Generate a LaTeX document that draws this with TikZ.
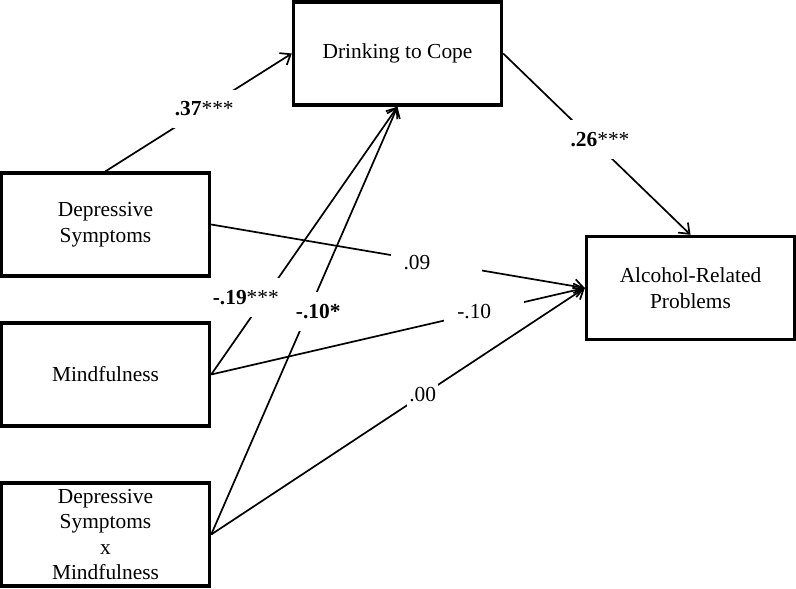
\documentclass[tikz,border=0pt]{standalone}
\usepackage{fontspec}
\setmainfont{Liberation Serif}
\usetikzlibrary{arrows.meta,positioning}

\begin{document}
\begin{tikzpicture}[
      x=0.5pt,y=-0.5pt,
      node distance=21.8pt,
      var/.style={draw,line width=1.7pt,align=center,inner sep=1pt,
        minimum width=104pt,minimum height=51.5pt,
        font=\fontsize{10.7}{12.8}\selectfont},
      coef/.style={fill=white,inner xsep=1pt,inner ysep=6pt,
        font=\fontsize{10.7}{12.8}\selectfont},
      widegap/.style={align=left,inner xsep=6.5pt,inner ysep=3pt},
      link/.style={-{Straight Barb[length=4.5pt,width=7pt]},line width=0.85pt}
    ]
      \useasboundingbox (0,0) rectangle (796,588);
      \node[var] (dep) at (105.5,224.5) {Depressive\\Symptoms};
      \node[var,below=of dep] (mind) {Mindfulness};
      \node[var,below=26.8pt of mind] (inter) {Depressive\\Symptoms\\x\\Mindfulness};
      \node[var] (cope) at (397.5,53.5) {Drinking to Cope};
      \node[var] (alc) at (690.5,288) {Alcohol-Related\\Problems};
      \draw[link] (dep.north) -- node[coef,pos=0.53] {\textbf{.37}***} (cope.west);
      \draw[link] (cope.east) -- node[coef,pos=0.474,xshift=4pt] {\textbf{.26}***} (alc.north);
      \draw[link] (dep.east) -- node[coef,widegap,pos=0.602,text width=32.5pt] {.09} (alc.west);
      \draw[link] (mind.east) -- node[coef,widegap,pos=0.731,text width=27pt] {-.10} (alc.west);
      \draw[link] (inter.east) -- node[coef,pos=0.566] {.00} (alc.west);
      \draw[link] (mind.east) -- node[coef,pos=0.288,xshift=-9.5pt] {\textbf{-.19}***} (cope.south);
      \draw[link] (inter.east) -- node[coef,pos=0.521,xshift=5pt] {\textbf{-.10*}} (cope.south);
\end{tikzpicture}
\end{document}
